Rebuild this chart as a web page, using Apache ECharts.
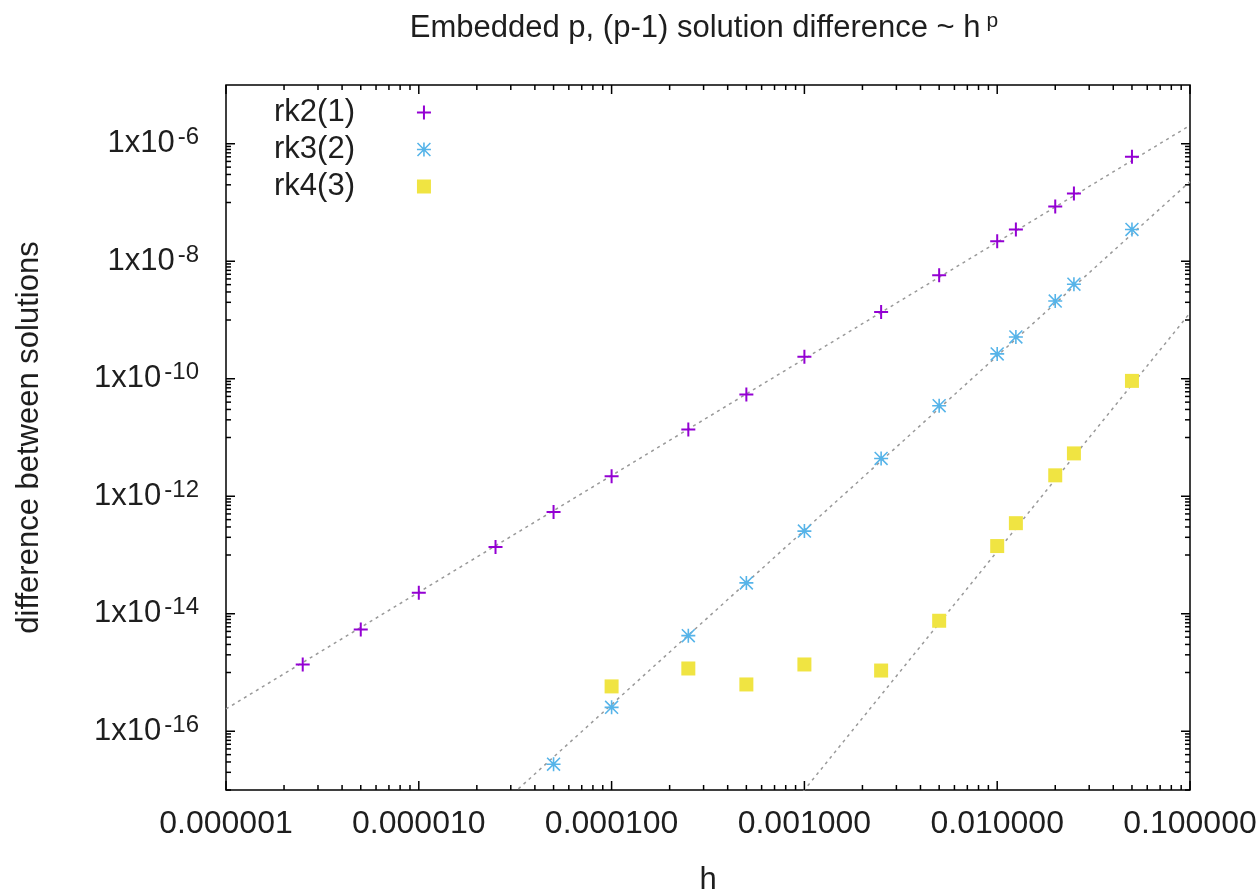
<!DOCTYPE html>
<html>
<head>
<meta charset="utf-8">
<title>Embedded p, (p-1) solution difference</title>
<script src="https://cdn.jsdelivr.net/npm/echarts@6/dist/echarts.min.js"></script>
<style>
html, body { margin: 0; padding: 0; background: #fff; }
#chart { width: 1260px; height: 894px; }
</style>
</head>
<body>
<div id="chart"></div>
<script>
// step sizes h and |y_p - y_(p-1)| for each embedded pair
var hRk2 = [2.5e-6, 5e-6, 1e-5, 2.5e-5, 5e-5, 1e-4, 2.5e-4, 5e-4, 1e-3, 2.5e-3, 5e-3, 1e-2, 1.25e-2, 2e-2, 2.5e-2, 5e-2];
var diffRk2 = [1.37e-15, 5.4e-15, 2.27e-14, 1.37e-13, 5.37e-13, 2.19e-12, 1.37e-11, 5.37e-11, 2.36e-10, 1.37e-9, 5.8e-9, 2.18e-8, 3.48e-8, 8.55e-8, 1.42e-7, 6.0e-7];

var hRk3 = [5e-5, 1e-4, 2.5e-4, 5e-4, 1e-3, 2.5e-3, 5e-3, 1e-2, 1.25e-2, 2e-2, 2.5e-2, 5e-2];
var diffRk3 = [2.75e-17, 2.55e-16, 4.24e-15, 3.35e-14, 2.55e-13, 4.4e-12, 3.48e-11, 2.65e-10, 5.15e-10, 2.1e-9, 4.07e-9, 3.48e-8];

var hRk4 = [1e-4, 2.5e-4, 5e-4, 1e-3, 2.5e-3, 5e-3, 1e-2, 1.25e-2, 2e-2, 2.5e-2, 5e-2];
var diffRk4 = [5.8e-16, 1.17e-15, 6.26e-16, 1.37e-15, 1.08e-15, 7.6e-15, 1.42e-13, 3.48e-13, 2.27e-12, 5.36e-12, 9.2e-11];

// fitted power-law lines (two end points each)
var fitRk2 = [[1e-6, 2.4e-16], [0.1, 2.05e-6]];
var fitRk3 = [[2e-5, 2.4e-18], [0.1, 2.27e-7]];
var fitRk4 = [[8e-4, 4.06e-18], [0.1, 1.32e-9]];

var seriesNames = ['rk2(1)', 'rk3(2)', 'rk4(3)'];

// axis ranges and tick marks
var xMin = 1e-6, xMax = 0.1;
var yMin = 1e-17, yMax = 1e-5;
var xMajorTicks = [1e-6, 1e-5, 1e-4, 1e-3, 1e-2, 1e-1];
var xDecades = [1e-6, 1e-5, 1e-4, 1e-3, 1e-2];
var yMajorTicks = [1e-16, 1e-14, 1e-12, 1e-10, 1e-8, 1e-6];
var yMinorDecades = [1e-17, 1e-15, 1e-13, 1e-11, 1e-9, 1e-7];
var minorSteps = [2, 3, 4, 5, 6, 7, 8, 9];

var FONT = "'Liberation Sans', Arial, sans-serif";
var TXT = '#1e1e1e';

function zip(xs, ys) {
    return xs.map(function (x, i) { return [x, ys[i]]; });
}

var xTickData = xMajorTicks.map(function (v) { return [v, yMin, 9]; });
xDecades.forEach(function (d) {
    minorSteps.forEach(function (k) { xTickData.push([k * d, yMin, 5]); });
});

var yTickData = yMajorTicks.map(function (v) { return [xMin, v, 9]; });
yMinorDecades.forEach(function (d) {
    yTickData.push([xMin, d, 5]);
    minorSteps.forEach(function (k) { yTickData.push([xMin, k * d, 5]); });
});

var tickStyle = { stroke: '#000', lineWidth: 1.5 };

function renderXTick(params, api) {
    var cs = params.coordSys;
    var x = api.coord([api.value(0), api.value(1)])[0];
    var len = api.value(2);
    return {
        type: 'group',
        children: [
            { type: 'line', shape: { x1: x, y1: cs.y + cs.height, x2: x, y2: cs.y + cs.height - len }, style: tickStyle },
            { type: 'line', shape: { x1: x, y1: cs.y, x2: x, y2: cs.y + len }, style: tickStyle }
        ]
    };
}

function renderYTick(params, api) {
    var cs = params.coordSys;
    var y = api.coord([api.value(0), api.value(1)])[1];
    var len = api.value(2);
    return {
        type: 'group',
        children: [
            { type: 'line', shape: { x1: cs.x, y1: y, x2: cs.x + len, y2: y }, style: tickStyle },
            { type: 'line', shape: { x1: cs.x + cs.width, y1: y, x2: cs.x + cs.width - len, y2: y }, style: tickStyle }
        ]
    };
}

var plusPath = 'path://M6,0H8V6H14V8H8V14H6V8H0V6H6Z';
var starPath = 'path://M6.2,0H7.8V14H6.2Z M0,6.2H14V7.8H0Z M1.1,0L14,12.9L12.9,14L0,1.1Z M12.9,0L14,1.1L1.1,14L0,12.9Z';

var fitLine = { color: '#999', width: 1.5, type: [3, 4] };

var chart = echarts.init(document.getElementById('chart'));

var option = {
    backgroundColor: '#fff',
    animation: false,
    graphic: [{
        type: 'text',
        x: 704,
        y: 28,
        style: {
            text: 'Embedded p, (p-1) solution difference ~ h{sup|p}',
            fontSize: 31,
            fontFamily: FONT,
            fill: TXT,
            align: 'center',
            verticalAlign: 'middle',
            rich: {
                sup: { fontSize: 21, fontFamily: FONT, fill: TXT, padding: [0, 0, 14, 6] }
            }
        }
    }],
    legend: {
        data: seriesNames,
        orient: 'vertical',
        left: 269,
        top: 92,
        align: 'right',
        itemWidth: 14,
        itemHeight: 14,
        itemGap: 6,
        selectedMode: false,
        textStyle: { fontSize: 31, fontFamily: FONT, color: TXT, padding: [0, 57, 0, 0] }
    },
    grid: {
        left: 226,
        right: 70,
        top: 85,
        bottom: 104,
        outerBoundsMode: 'none',
        show: true,
        borderColor: '#000',
        borderWidth: 1.5,
        backgroundColor: 'transparent'
    },
    xAxis: {
        type: 'log',
        logBase: 10,
        min: xMin,
        max: xMax,
        interval: 1,
        name: 'h',
        nameLocation: 'middle',
        nameGap: 75,
        nameTextStyle: { fontSize: 31, fontFamily: FONT, color: TXT },
        axisLine: { show: false },
        axisTick: { show: false },
        splitLine: { show: false },
        axisLabel: {
            fontSize: 32,
            fontFamily: FONT,
            color: TXT,
            margin: 18,
            formatter: function (v) { return v.toFixed(6); }
        }
    },
    yAxis: {
        type: 'log',
        logBase: 10,
        min: yMin,
        max: yMax,
        interval: 1,
        splitNumber: 12,
        name: 'difference between solutions',
        nameLocation: 'middle',
        nameRotate: 90,
        nameGap: 181,
        nameTextStyle: { fontSize: 31, fontFamily: FONT, color: TXT },
        axisLine: { show: false },
        axisTick: { show: false },
        splitLine: { show: false },
        axisLabel: {
            fontSize: 31,
            fontFamily: FONT,
            color: TXT,
            margin: 27,
            formatter: function (v) {
                var e = Math.round(Math.log10(v));
                return e % 2 === 0 ? '1x10{sup|' + e + '}' : '';
            },
            rich: {
                sup: { fontSize: 24, fontFamily: FONT, color: TXT, padding: [0, 0, 12, 3] }
            }
        }
    },
    series: [
        { name: 'fit2', type: 'line', data: fitRk2, symbol: 'none', lineStyle: fitLine, silent: true, z: 1 },
        { name: 'fit3', type: 'line', data: fitRk3, symbol: 'none', lineStyle: fitLine, silent: true, z: 1 },
        { name: 'fit4', type: 'line', data: fitRk4, symbol: 'none', lineStyle: fitLine, silent: true, z: 1 },
        {
            name: seriesNames[0], type: 'scatter', data: zip(hRk2, diffRk2),
            symbol: plusPath, symbolSize: 14, itemStyle: { color: '#9400d3', opacity: 1 }, z: 3
        },
        {
            name: seriesNames[1], type: 'scatter', data: zip(hRk3, diffRk3),
            symbol: starPath, symbolSize: 14, itemStyle: { color: '#56b4e9', opacity: 1 }, z: 3
        },
        {
            name: seriesNames[2], type: 'scatter', data: zip(hRk4, diffRk4),
            symbol: 'rect', symbolSize: 14, itemStyle: { color: '#f0e442', opacity: 1 }, z: 2
        },
        { name: 'xticks', type: 'custom', data: xTickData, renderItem: renderXTick, silent: true, z: 5 },
        { name: 'yticks', type: 'custom', data: yTickData, renderItem: renderYTick, silent: true, z: 5 }
    ]
};

chart.setOption(option);
</script>
</body>
</html>
